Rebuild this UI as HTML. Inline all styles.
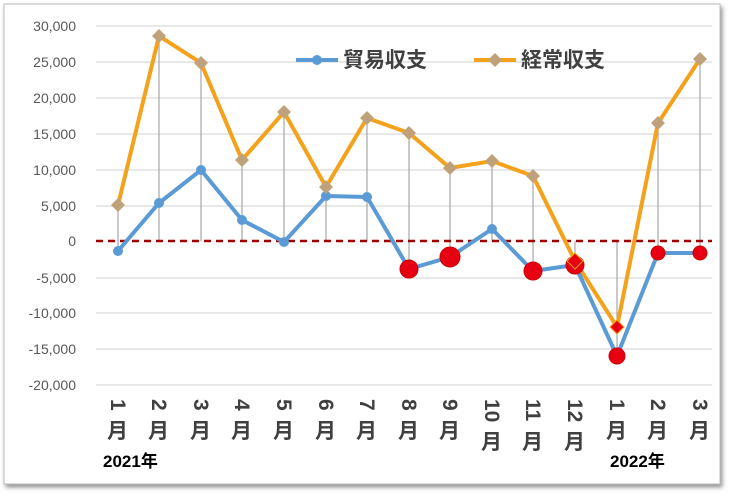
<!DOCTYPE html><html><head><meta charset="utf-8"><style>
body{margin:0;background:#fff;width:729px;height:493px;overflow:hidden}
</style></head><body>
<svg width="729" height="493" xmlns="http://www.w3.org/2000/svg" font-family="Liberation Sans, Noto Sans CJK JP, sans-serif">
<defs><filter id="s" x="-5%" y="-5%" width="110%" height="110%"><feDropShadow dx="2" dy="3" stdDeviation="2" flood-color="#666" flood-opacity="0.7"/></filter></defs>
<rect x="4" y="4" width="716" height="480" fill="#fff" stroke="#bbb" filter="url(#s)"/>
<g stroke="#d9d9d9" stroke-width="1.2">
<line x1="96" x2="712" y1="26" y2="26"/><line x1="96" x2="712" y1="62" y2="62"/><line x1="96" x2="712" y1="98" y2="98"/><line x1="96" x2="712" y1="134" y2="134"/><line x1="96" x2="712" y1="170" y2="170"/><line x1="96" x2="712" y1="206" y2="206"/><line x1="96" x2="712" y1="278" y2="278"/><line x1="96" x2="712" y1="313" y2="313"/><line x1="96" x2="712" y1="349" y2="349"/><line x1="96" x2="712" y1="385" y2="385"/>
</g>
<g font-size="14" fill="#595959" text-anchor="end">
<text x="76" y="31">30,000</text><text x="76" y="67">25,000</text><text x="76" y="103">20,000</text><text x="76" y="139">15,000</text><text x="76" y="175">10,000</text><text x="76" y="211">5,000</text><text x="76" y="246">0</text><text x="76" y="283">-5,000</text><text x="76" y="318">-10,000</text><text x="76" y="354">-15,000</text><text x="76" y="390">-20,000</text>
</g>
<g stroke="#a6a6a6" stroke-width="1.2">
<line x1="118" x2="118" y1="205" y2="251"/><line x1="159" x2="159" y1="36" y2="241"/><line x1="201" x2="201" y1="63" y2="241"/><line x1="242" x2="242" y1="160" y2="241"/><line x1="284" x2="284" y1="112" y2="242"/><line x1="326" x2="326" y1="187" y2="241"/><line x1="367" x2="367" y1="118" y2="241"/><line x1="409" x2="409" y1="133" y2="269"/><line x1="450" x2="450" y1="168" y2="257"/><line x1="492" x2="492" y1="161" y2="241"/><line x1="533" x2="533" y1="176" y2="271"/><line x1="575" x2="575" y1="241" y2="265"/><line x1="617" x2="617" y1="241" y2="356"/><line x1="658" x2="658" y1="123" y2="253"/><line x1="700" x2="700" y1="59" y2="253"/>
</g>
<line x1="96" x2="712" y1="241" y2="241" stroke="#a00000" stroke-width="2.5" stroke-dasharray="7,5"/>
<polyline fill="none" stroke="#f4a21c" stroke-width="4" points="118,205 159,36 201,63 242,160 284,112 326,187 367,118 409,133 450,168 492,161 533,176 575,261 617,327 658,123 700,59"/>
<polyline fill="none" stroke="#5b9bd5" stroke-width="4" points="118,251 159,203 201,170 242,220 284,242 326,196 367,197 409,269 450,257 492,229 533,271 575,265 617,356 658,253 700,253"/>
<g fill="#5b9bd5"><circle cx="118" cy="251" r="5"/><circle cx="159" cy="203" r="5"/><circle cx="201" cy="170" r="5"/><circle cx="242" cy="220" r="5"/><circle cx="284" cy="242" r="5"/><circle cx="326" cy="196" r="5"/><circle cx="367" cy="197" r="5"/><circle cx="492" cy="229" r="5"/></g>
<g fill="#e60012" stroke="#c00" stroke-width="1"><circle cx="409" cy="269" r="9"/><circle cx="450" cy="257" r="10"/><circle cx="533" cy="271" r="9"/><circle cx="575" cy="265" r="9"/><circle cx="617" cy="356" r="8"/><circle cx="658" cy="253" r="7"/><circle cx="700" cy="253" r="7"/></g>
<g fill="#bfa27a">
<path d="M118 198l7 7-7 7-7-7z"/><path d="M159 29l7 7-7 7-7-7z"/><path d="M201 56l7 7-7 7-7-7z"/><path d="M242 153l7 7-7 7-7-7z"/><path d="M284 105l7 7-7 7-7-7z"/><path d="M326 180l7 7-7 7-7-7z"/><path d="M367 111l7 7-7 7-7-7z"/><path d="M409 126l7 7-7 7-7-7z"/><path d="M450 161l7 7-7 7-7-7z"/><path d="M492 154l7 7-7 7-7-7z"/><path d="M533 169l7 7-7 7-7-7z"/><path d="M658 116l7 7-7 7-7-7z"/><path d="M700 52l7 7-7 7-7-7z"/></g>
<g fill="#e60012" stroke="#f4a21c" stroke-width="1"><path d="M575 253l8 8-8 8-8-8z"/><path d="M617 320l7 7-7 7-7-7z"/></g>
<line x1="296" x2="338" y1="60" y2="60" stroke="#5b9bd5" stroke-width="4"/><circle cx="317" cy="60" r="5" fill="#5b9bd5"/>
<text x="343" y="67" font-size="21" font-weight="600" fill="#404040">貿易収支</text>
<line x1="474" x2="516" y1="60" y2="60" stroke="#f4a21c" stroke-width="4"/><path d="M495 53l7 7-7 7-7-7z" fill="#bfa27a"/>
<text x="521" y="67" font-size="21" font-weight="600" fill="#404040">経常収支</text>
<g font-size="21" fill="#404040" font-weight="bold">
<g transform="translate(118,399) rotate(90)"><text x="0" y="7">1</text></g><text x="107" y="438">月</text>
<g transform="translate(159,399) rotate(90)"><text x="0" y="7">2</text></g><text x="148" y="438">月</text>
<g transform="translate(201,399) rotate(90)"><text x="0" y="7">3</text></g><text x="190" y="438">月</text>
<g transform="translate(242,399) rotate(90)"><text x="0" y="7">4</text></g><text x="231" y="438">月</text>
<g transform="translate(284,399) rotate(90)"><text x="0" y="7">5</text></g><text x="273" y="438">月</text>
<g transform="translate(326,399) rotate(90)"><text x="0" y="7">6</text></g><text x="315" y="438">月</text>
<g transform="translate(367,399) rotate(90)"><text x="0" y="7">7</text></g><text x="356" y="438">月</text>
<g transform="translate(409,399) rotate(90)"><text x="0" y="7">8</text></g><text x="398" y="438">月</text>
<g transform="translate(450,399) rotate(90)"><text x="0" y="7">9</text></g><text x="439" y="438">月</text>
<g transform="translate(492,399) rotate(90)"><text x="0" y="7">10</text></g><text x="481" y="449">月</text>
<g transform="translate(533,399) rotate(90)"><text x="0" y="7">11</text></g><text x="522" y="449">月</text>
<g transform="translate(575,399) rotate(90)"><text x="0" y="7">12</text></g><text x="564" y="449">月</text>
<g transform="translate(617,399) rotate(90)"><text x="0" y="7">1</text></g><text x="606" y="438">月</text>
<g transform="translate(658,399) rotate(90)"><text x="0" y="7">2</text></g><text x="647" y="438">月</text>
<g transform="translate(700,399) rotate(90)"><text x="0" y="7">3</text></g><text x="689" y="438">月</text>
</g>
<text x="103" y="467" font-size="17" font-weight="bold" fill="#000">2021年</text>
<text x="610" y="467" font-size="17" font-weight="bold" fill="#000">2022年</text>
</svg>
</body></html>
